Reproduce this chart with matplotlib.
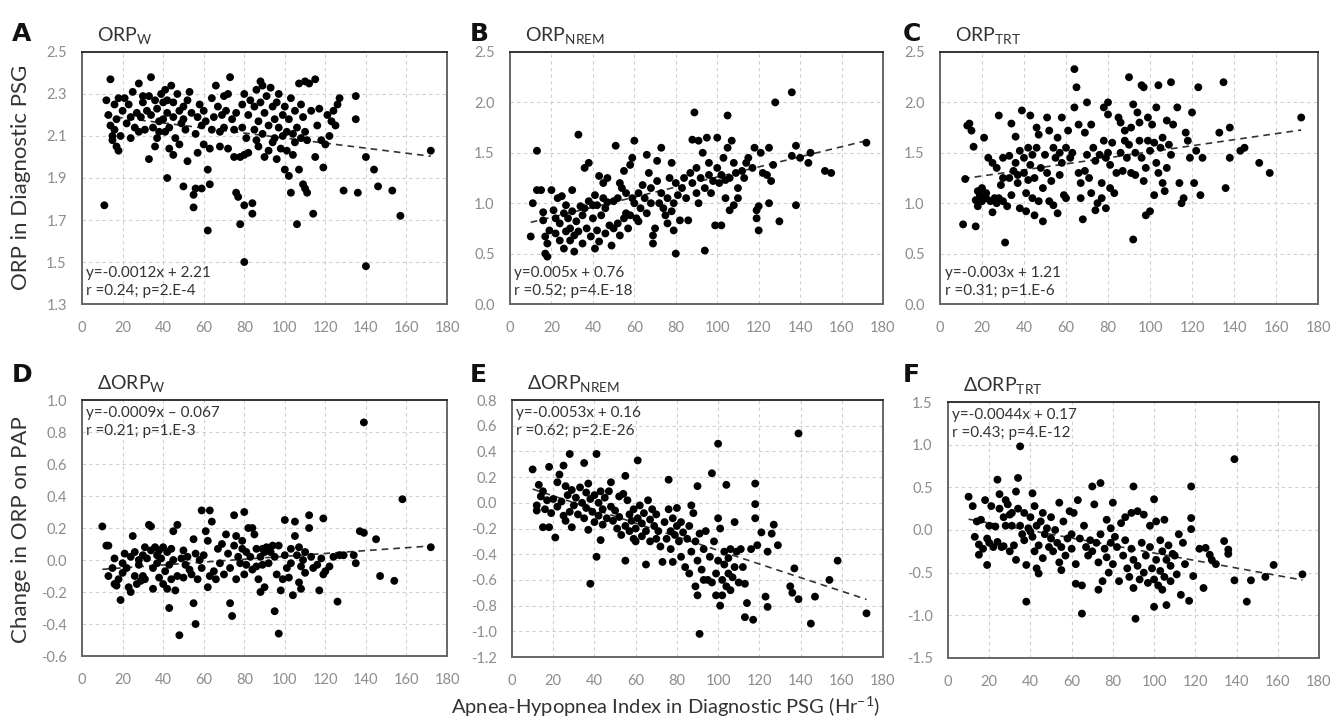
import numpy as np
import matplotlib.pyplot as plt

plt.rcParams['font.family'] = ['Lato', 'DejaVu Sans']

# ---- data (AHI, ORP) ----
orp_w = [
    (11,1.77),(14,2.37),(12,2.27),(13,2.20),(14,2.15),(16,2.13),(15,2.08),(17,2.05),(18,2.03),(19,2.10),
    (16,2.25),(18,2.28),(20,2.22),(17,2.18),(15,2.10),
    (21,2.28),(22,2.16),(23,2.25),(24,2.09),(25,2.31),(26,2.14),(27,2.21),(28,2.35),(29,2.19),(28,2.12),
    (30,2.26),(30,2.29),(24,2.19),
    (31,2.13),(32,2.22),(33,2.29),(34,2.20),(34,2.38),(35,2.14),(36,2.27),(37,2.09),(37,2.23),(38,2.17),
    (39,2.30),(33,1.99),(36,2.05),(40,2.18),(40,2.26),(38,2.12),
    (41,2.32),(42,2.27),(42,2.21),(43,2.14),(43,2.04),(44,2.34),(45,2.26),(45,2.19),(46,2.09),(47,2.30),
    (48,2.22),(48,2.06),(49,2.16),(50,2.24),(50,2.18),(41,2.12),(45,2.01),(42,1.90),(50,1.86),
    (51,2.13),(52,2.27),(52,1.98),(53,2.31),(54,2.21),(55,1.82),(55,1.76),(56,2.11),(56,1.85),(57,2.02),
    (57,2.19),(58,2.25),(59,2.15),(59,1.85),(60,2.22),(60,2.06),(61,2.17),
    (62,1.94),(62,1.65),(63,1.87),(63,2.04),(64,2.28),(64,2.13),(65,2.19),(66,2.34),(67,2.24),(68,2.05),
    (68,2.12),(69,2.20),(70,2.29),(70,2.14),(71,2.22),(72,2.04),(72,2.30),
    (73,2.38),(74,2.18),(75,2.00),(75,2.13),(76,2.21),(76,1.83),(77,1.81),(78,2.00),(78,1.68),(79,2.25),
    (79,2.14),(80,1.77),(80,2.01),(80,1.50),(80,2.30),(81,2.09),
    (82,2.20),(82,2.02),(83,2.27),(84,1.78),(84,1.73),(85,2.13),(85,2.24),(86,2.32),(87,2.17),(87,2.05),
    (88,2.26),(89,2.34),(89,2.11),(90,2.00),(90,2.21),(88,2.36),(86,2.08),
    (91,2.29),(92,2.15),(92,2.03),(93,2.33),(94,2.24),(95,2.09),(95,2.18),(96,1.99),(96,2.26),(97,2.30),
    (97,2.14),(98,2.04),(99,2.20),(99,2.10),(100,1.94),(100,2.24),(94,2.07),
    (101,2.12),(101,2.03),(102,1.91),(102,2.18),(103,2.28),(103,1.83),(104,2.11),(104,2.01),(105,2.07),
    (105,2.22),(106,1.68),(106,2.14),(107,1.94),(107,2.35),(108,2.09),(108,2.25),(109,1.87),(109,2.19),
    (110,1.85),(110,2.36),(110,2.12),(111,1.83),(111,2.08),
    (112,2.35),(113,2.22),(114,1.73),(115,2.37),(115,2.00),(116,2.15),(117,2.23),(118,2.08),(119,1.95),
    (120,2.06),(121,2.20),(122,2.10),(123,2.17),(124,2.22),(125,2.15),(126,2.25),(127,2.28),
    (129,1.84),(135,2.29),(135,2.18),(136,1.83),(140,2.00),(140,1.48),(144,1.94),(146,1.86),(153,1.84),
    (157,1.72),(172,2.03),
]

orp_nrem = [
    (10,0.67),(11,1.00),(13,1.52),(13,1.13),(15,1.13),(16,0.91),(16,0.83),(17,0.67),(17,0.50),(18,0.47),
    (19,0.73),(20,1.13),(18,0.60),
    (21,0.93),(22,0.85),(22,0.70),(23,1.05),(24,0.63),(24,0.80),(25,1.07),(26,0.90),(26,0.55),(27,0.72),
    (27,0.98),(28,0.85),(29,0.63),(29,0.75),(30,0.92),(30,1.13),(31,0.52),(31,0.68),(32,0.82),
    (33,1.68),(33,0.72),(34,0.97),(35,0.60),(35,0.88),(36,1.35),(36,0.95),(37,0.75),(38,1.40),(38,1.02),
    (39,0.67),(40,0.98),(40,0.85),(41,0.55),(41,1.08),(42,0.73),
    (42,0.98),(43,1.27),(43,0.62),(44,0.88),(45,1.05),(45,1.20),(46,0.95),(46,0.70),(47,1.25),(47,1.01),
    (48,0.78),(49,0.58),(50,1.02),(50,0.75),
    (51,1.57),(52,1.05),(52,0.80),(53,1.20),(53,0.68),(54,1.15),(55,0.85),(55,1.32),(56,1.10),(56,0.90),
    (57,0.75),(58,1.38),(58,0.88),(59,1.45),(59,1.05),(60,1.62),(60,1.00),(61,0.85),
    (62,1.10),(62,0.82),(63,0.95),(64,1.18),(65,1.05),(66,1.48),(66,0.90),(67,1.30),(68,1.15),(68,1.00),
    (69,0.60),(69,0.68),(70,0.75),(71,1.42),(71,1.22),(72,1.00),(73,1.55),
    (73,1.10),(74,0.95),(75,0.88),(76,1.05),(76,0.80),(77,1.25),(78,1.40),(78,0.92),(79,1.00),(79,0.73),
    (80,1.20),(80,0.50),(81,1.08),(82,0.83),
    (83,1.15),(84,1.25),(85,1.05),(86,0.83),(87,1.30),(88,1.20),(88,1.63),(89,1.90),(90,1.10),(90,1.35),
    (91,1.00),(91,1.62),(92,1.25),(93,1.50),(94,1.15),(94,0.53),(95,1.65),(96,1.40),(96,1.28),
    (97,1.10),(98,1.22),(99,0.78),(100,1.35),(100,1.65),(101,1.20),(102,0.78),(102,1.28),(103,1.45),
    (104,1.05),(104,1.23),(105,1.55),(105,1.87),(106,0.93),(106,1.25),(107,1.62),(108,1.40),(108,0.98),
    (109,1.30),
    (110,1.15),(110,1.05),(112,1.32),(113,1.25),(114,1.40),(115,1.45),(117,1.35),(118,1.55),(119,0.85),
    (119,0.93),(120,0.73),(120,0.97),(121,1.50),(122,1.30),(124,1.28),(125,1.55),(125,1.00),(126,1.22),
    (127,1.38),(128,2.00),(130,0.82),
    (136,2.10),(136,1.47),(138,1.57),(138,0.98),(140,1.45),(144,1.40),(145,1.50),(152,1.32),(155,1.30),
    (172,1.60),
]

orp_trt = [
    (11,0.79),(12,1.24),(13,1.77),(14,1.79),(15,1.72),(16,1.56),(17,0.77),(17,1.03),(18,0.97),(18,1.12),
    (19,1.08),(20,1.15),(20,1.02),
    (21,1.65),(22,1.05),(22,1.10),(23,1.45),(24,1.02),(25,0.91),(25,1.40),(26,1.05),(27,1.35),(27,1.00),
    (28,1.87),(28,1.05),(29,1.18),(30,1.45),(30,1.25),(30,1.02),
    (31,0.61),(32,0.97),(33,1.25),(33,1.47),(34,1.79),(34,1.08),(35,1.32),(36,1.66),(36,1.40),(37,1.28),
    (37,1.20),(38,1.52),(38,0.95),(39,1.92),(40,1.45),(40,1.30),
    (41,0.92),(41,1.10),(42,1.55),(42,1.23),(43,1.87),(43,1.38),(44,1.05),(44,1.48),(45,0.88),(45,1.25),
    (46,1.75),(46,1.55),(47,1.02),(47,1.68),(48,1.35),(49,0.82),(49,1.15),(50,1.48),
    (51,1.85),(51,1.30),(52,1.72),(52,1.02),(53,1.22),(54,0.98),(54,1.55),(55,1.45),(56,0.90),(56,1.65),
    (57,1.28),(57,1.50),(58,1.85),(58,1.40),(59,1.08),(60,1.05),(60,1.55),(61,1.72),
    (62,1.45),(63,1.50),(64,2.33),(64,1.95),(65,2.15),(66,1.30),(66,1.78),(67,1.20),(67,1.05),(68,0.84),
    (69,1.70),(69,1.32),(70,1.48),(70,2.00),(71,1.25),(72,1.10),(72,1.78),(73,1.55),
    (74,1.42),(74,0.93),(75,1.00),(76,1.48),(77,1.20),(77,1.05),(78,1.62),(78,1.95),(79,1.45),(79,0.95),
    (80,2.00),(80,1.88),(80,1.50),(81,1.15),(81,1.38),
    (82,1.60),(83,1.10),(84,1.30),(85,1.85),(86,1.80),(86,1.50),(87,1.32),(88,1.62),(88,1.72),(89,1.45),
    (90,2.25),(90,1.58),(91,1.75),(91,1.30),
    (92,0.64),(92,1.98),(93,1.50),(93,1.28),(94,1.90),(95,1.80),(95,1.62),(96,2.17),(96,1.45),(97,2.15),
    (97,1.22),(98,0.88),(98,1.35),(99,1.62),(99,1.85),(100,1.52),(100,0.92),(101,1.78),
    (102,1.08),(102,1.60),(103,1.40),(103,1.95),(104,2.17),(104,1.30),(105,1.55),(106,1.20),(106,1.65),
    (107,1.12),(108,1.35),(108,1.82),(109,1.58),(110,2.20),(110,1.48),(111,1.78),
    (113,1.95),(114,1.20),(115,1.00),(116,1.05),(117,1.70),(118,1.62),(119,1.45),(120,1.90),(121,1.20),
    (122,1.52),(123,2.15),(124,1.08),(125,1.45),
    (133,1.70),(135,2.20),(136,1.15),(138,1.45),(138,1.75),(145,1.55),(143,1.52),(152,1.40),(157,1.30),
    (172,1.85),
]

d_orp_w = [
    (10,0.21),(12,0.09),(13,0.09),(13,-0.10),(15,-0.05),(16,0.01),(16,-0.15),(17,-0.16),(18,-0.12),
    (19,-0.25),(20,-0.02),(20,-0.08),
    (21,0.04),(22,-0.05),(23,-0.17),(24,-0.20),(24,0.02),(25,0.15),(26,-0.10),(26,0.05),(27,-0.15),
    (28,-0.03),(28,0.00),(29,-0.13),(30,0.03),(30,-0.10),
    (31,0.08),(31,-0.12),(32,0.01),(33,0.22),(34,0.06),(34,0.21),(35,-0.18),(35,-0.05),(36,0.08),(37,0.03),
    (37,-0.02),(38,0.06),(38,-0.11),(39,0.01),(40,-0.15),(40,0.08),
    (41,-0.07),(42,-0.18),(42,0.05),(43,-0.30),(43,-0.03),(44,0.07),(44,-0.12),(45,0.18),(45,0.00),
    (46,-0.19),(47,0.22),(47,-0.10),(48,-0.47),(49,0.01),(50,-0.11),(50,0.06),
    (51,-0.03),(52,0.02),(53,-0.06),(54,-0.09),(55,-0.27),(55,0.13),(56,-0.40),(56,0.04),(57,-0.12),
    (58,0.00),(59,0.31),(59,-0.05),(60,0.03),
    (61,0.18),(62,-0.17),(62,0.12),(63,0.31),(63,-0.10),(64,0.24),(65,-0.07),(66,-0.12),(67,0.07),
    (68,-0.02),(69,0.10),(70,-0.09),(71,0.16),(72,0.04),(73,-0.05),(73,-0.27),(74,-0.35),
    (75,0.28),(75,0.09),(76,-0.12),(76,0.15),(77,0.02),(78,-0.02),(79,0.07),(79,0.12),(80,-0.09),(80,0.30),
    (81,0.05),(81,-0.03),(82,0.20),
    (83,0.02),(84,0.20),(84,-0.06),(85,0.16),(86,0.07),(86,-0.04),(87,-0.12),(88,0.02),(88,-0.20),
    (89,0.07),(89,-0.03),(90,-0.17),(90,0.05),
    (91,0.08),(92,-0.02),(93,0.05),(94,0.09),(95,-0.32),(95,0.02),(96,-0.09),(97,-0.46),(97,0.09),
    (98,-0.19),(99,-0.12),(100,0.03),(100,0.25),
    (101,-0.05),(102,-0.11),(103,0.07),(103,-0.02),(104,-0.22),(105,0.15),(105,0.24),(106,0.03),
    (107,-0.14),(107,0.08),(108,-0.18),(108,-0.04),(109,0.00),(110,-0.08),(110,0.05),
    (112,0.28),(112,0.20),(113,0.02),(114,-0.05),(116,-0.03),(117,-0.19),(118,0.01),(119,0.26),
    (119,-0.09),(120,-0.07),(122,-0.04),(124,0.02),(126,-0.26),(127,0.03),(129,0.03),
    (134,0.03),(135,-0.02),(137,0.18),(139,0.17),(139,0.86),(145,0.13),(147,-0.10),(154,-0.13),
    (158,0.38),(172,0.08),
]

d_orp_nrem = [
    (10,0.26),(12,-0.02),(12,-0.06),(13,0.14),(14,0.05),(15,0.09),(15,-0.19),(16,-0.05),(17,0.02),
    (18,-0.19),(18,0.28),(19,-0.08),(20,0.03),
    (21,-0.27),(22,-0.03),(22,0.16),(23,0.22),(24,0.01),(25,0.29),(25,-0.10),(26,0.13),(26,-0.14),
    (27,0.06),(28,-0.07),(28,0.38),(29,-0.19),(29,0.10),(30,-0.02),
    (31,0.04),(32,-0.09),(33,0.12),(34,0.00),(35,0.31),(35,-0.12),(36,0.08),(36,-0.04),(37,0.15),
    (37,-0.21),(38,-0.63),(38,0.03),(39,-0.07),(40,0.06),(40,-0.15),
    (41,0.38),(41,-0.42),(42,0.00),(42,-0.10),(43,-0.29),(43,0.09),(44,-0.05),(44,-0.17),(45,0.04),
    (46,-0.12),(47,0.09),(48,0.16),(48,-0.03),(49,-0.14),(50,-0.06),
    (51,-0.20),(52,0.05),(52,-0.11),(53,-0.25),(54,0.07),(55,0.21),(55,-0.45),(55,-0.18),(56,0.02),
    (57,-0.22),(57,-0.09),(58,-0.14),(59,-0.28),(59,-0.05),(60,-0.20),(60,-0.30),
    (61,0.33),(61,-0.12),(62,-0.02),(63,-0.26),(63,-0.16),(64,-0.08),(65,-0.48),(65,-0.22),(66,0.02),
    (67,-0.13),(67,-0.30),(68,-0.05),(69,-0.18),(70,-0.28),(70,-0.09),
    (71,-0.22),(72,-0.34),(73,-0.46),(74,-0.15),(75,-0.28),(76,0.18),(76,-0.05),(77,-0.22),(77,-0.36),
    (78,-0.12),(78,-0.46),(79,-0.25),(80,-0.04),(80,-0.18),(81,-0.30),
    (82,-0.42),(82,-0.15),(83,-0.23),(84,-0.50),(85,-0.28),(86,-0.55),(86,-0.18),(87,-0.38),(87,-0.02),
    (88,-0.08),(89,-0.65),(89,-0.30),(90,0.13),(90,-0.72),(90,-0.45),
    (91,-1.02),(91,-0.24),(92,-0.52),(93,-0.36),(93,-0.60),(94,-0.22),(95,-0.60),(96,-0.42),(97,0.23),
    (97,-0.62),(98,-0.30),(99,-0.55),(99,-0.72),(100,0.46),(100,-0.12),(100,-0.45),
    (101,-0.80),(101,-0.20),(102,-0.60),(102,-0.72),(103,-0.48),(103,-0.38),(104,0.14),(104,-0.65),
    (105,-0.55),(105,-0.43),(106,-0.36),(106,-0.68),(107,-0.58),(108,-0.50),(108,-0.15),(109,-0.38),
    (110,-0.62),
    (111,-0.36),(112,-0.50),(113,-0.63),(113,-0.89),(114,-0.78),(116,-0.36),(117,-0.91),(118,0.15),
    (118,-0.01),(118,-0.12),(119,-0.33),(121,-0.23),(123,-0.73),(124,-0.81),(124,-0.38),(126,-0.24),
    (127,-0.17),(129,-0.33),
    (135,-0.65),(136,-0.70),(137,-0.51),(139,0.54),(139,-0.75),(145,-0.94),(147,-0.73),(154,-0.60),
    (158,-0.45),(172,-0.86),
]

d_orp_trt = [
    (10,0.39),(12,0.28),(13,-0.08),(14,0.10),(15,-0.17),(15,-0.29),(16,0.12),(17,-0.22),(18,0.35),
    (19,-0.41),(19,-0.10),(20,-0.15),(20,0.05),
    (21,0.28),(22,-0.20),(23,0.04),(24,0.59),(24,-0.14),(25,0.25),(25,0.42),(26,-0.20),(27,0.15),
    (27,-0.19),(28,0.35),(28,0.05),(29,0.30),(30,-0.25),(30,0.18),
    (31,0.20),(31,0.05),(32,-0.18),(33,-0.35),(33,0.45),(34,0.61),(34,0.25),(35,0.98),(35,0.05),
    (36,-0.05),(37,0.20),(37,-0.12),(38,-0.84),(38,-0.41),(39,0.02),(40,-0.02),(40,0.15),
    (41,0.43),(41,-0.08),(42,-0.25),(42,0.28),(43,-0.45),(43,0.05),(44,-0.51),(44,-0.18),(45,0.10),
    (46,-0.33),(46,0.20),(47,-0.05),(48,0.02),(49,-0.20),(50,0.15),(50,-0.10),
    (51,-0.25),(52,0.00),(53,-0.15),(54,0.32),(54,-0.38),(55,-0.47),(55,-0.20),(56,0.10),(57,-0.30),
    (58,-0.10),(59,0.22),(60,-0.05),(60,-0.22),
    (61,0.20),(62,-0.63),(62,-0.40),(63,0.35),(64,-0.10),(65,-0.98),(65,-0.65),(66,0.05),(67,-0.20),
    (68,-0.30),(69,-0.12),(70,0.51),(70,-0.25),(71,0.30),(72,-0.15),
    (73,-0.70),(73,-0.38),(74,0.55),(74,-0.05),(75,-0.60),(76,-0.22),(77,0.12),(77,-0.32),(78,-0.50),
    (79,0.02),(79,-0.15),(80,-0.40),(80,0.32),(81,-0.08),
    (82,-0.20),(83,-0.60),(84,0.08),(85,-0.30),(86,-0.12),(86,0.15),(87,-0.45),(88,-0.55),(89,0.20),
    (89,-0.22),(90,0.51),(90,-0.68),(90,-0.35),
    (91,-1.04),(92,0.22),(92,-0.42),(93,-0.58),(94,-0.15),(95,0.18),(95,-0.50),(96,-0.30),(97,-0.62),
    (98,-0.20),(98,0.05),(99,-0.45),(100,0.36),(100,-0.58),(100,-0.90),
    (101,0.10),(101,-0.35),(102,-0.65),(103,-0.12),(103,-0.48),(104,-0.25),(104,-0.70),(105,0.12),
    (105,-0.55),(106,-0.88),(106,-0.35),(107,-0.18),(108,-0.60),(108,-0.42),(109,-0.28),(110,-0.30),
    (111,-0.52),(112,-0.05),(113,-0.76),(114,-0.15),(115,-0.40),(117,-0.83),(118,0.51),(118,0.14),
    (118,0.01),(119,-0.54),(122,-0.22),(124,-0.68),(125,-0.21),(127,-0.29),(128,-0.35),(130,-0.40),
    (134,-0.13),(136,-0.23),(136,-0.28),(139,0.83),(139,-0.59),(145,-0.84),(147,-0.59),(154,-0.55),
    (158,-0.41),(172,-0.52),
]

letters = ['A', 'B', 'C', 'D', 'E', 'F']
titles = [r'ORP$_{\mathregular{W}}$', r'ORP$_{\mathregular{NREM}}$', r'ORP$_{\mathregular{TRT}}$',
          r'ΔORP$_{\mathregular{W}}$', r'ΔORP$_{\mathregular{NREM}}$', r'ΔORP$_{\mathregular{TRT}}$']
equations = ['y=-0.0012x + 2.21\nr =0.24; p=2.E-4',
             'y=0.005x + 0.76\nr =0.52; p=4.E-18',
             'y=-0.003x + 1.21\nr =0.31; p=1.E-6',
             'y=-0.0009x \u2013 0.067\nr =0.21; p=1.E-3',
             'y=-0.0053x + 0.16\nr =0.62; p=2.E-26',
             'y=-0.0044x + 0.17\nr =0.43; p=4.E-12']
# fitted line as drawn in the figure
slopes = [-0.0012, 0.005, 0.003, 0.0009, -0.0053, -0.0044]
intercepts = [2.21, 0.76, 1.21, -0.067, 0.16, 0.17]
ylims = [(1.3, 2.5), (0.0, 2.5), (0.0, 2.5), (-0.6, 1.0), (-1.2, 0.8), (-1.5, 1.5)]
ysteps = [0.2, 0.5, 0.5, 0.2, 0.2, 0.5]
datasets = [orp_w, orp_nrem, orp_trt, d_orp_w, d_orp_nrem, d_orp_trt]

# axes boxes in figure fraction [left, bottom, width, height]
boxes = [[0.0616, 0.5824, 0.2740, 0.3462],
         [0.3829, 0.5824, 0.2800, 0.3462],
         [0.7057, 0.5824, 0.2838, 0.3462],
         [0.0616, 0.0989, 0.2740, 0.3516],
         [0.3844, 0.0975, 0.2785, 0.3530],
         [0.7117, 0.0962, 0.2785, 0.3516]]

fig = plt.figure(figsize=(13.32, 7.28), dpi=100)

for i in range(6):
    ax = fig.add_axes(boxes[i])
    pts = np.array(datasets[i])
    x, y = pts[:, 0], pts[:, 1]
    ax.scatter(x, y, s=32, color='black', edgecolors='none', zorder=3)
    xl = np.array([x.min(), x.max()])
    ax.plot(xl, slopes[i] * xl + intercepts[i], color='#333333', lw=1.2,
            dashes=(4, 3), zorder=2)

    lo, hi = ylims[i]
    ax.set_xlim(0, 180)
    ax.set_ylim(lo, hi)
    ax.set_xticks(np.arange(0, 181, 20))
    yt = np.round(np.arange(lo, hi + 1e-9, ysteps[i]), 2) + 0.0
    ax.set_yticks(yt)
    ax.set_yticklabels(['%.1f' % (v if abs(v) > 1e-9 else 0.0) for v in yt])
    ax.grid(True, color='#cfcfcf', lw=0.8, linestyle=(0, (3, 3)))
    ax.set_axisbelow(True)
    ax.tick_params(length=0, labelsize=10.5, labelcolor='#8c8c8c')
    ax.tick_params(axis='x', pad=12)
    ax.tick_params(axis='y', pad=11)
    for s in ax.spines.values():
        s.set_color('#666666')
        s.set_linewidth(1.4)
    ax.spines['top'].set_color('#333333')

    ax.text(0.04, 1.02, titles[i], transform=ax.transAxes, fontsize=14,
            color='#333333', ha='left', va='bottom')
    if i < 3:
        ax.text(0.012, 0.025, equations[i], transform=ax.transAxes, fontsize=11,
                color='#333333', ha='left', va='bottom', linespacing=1.35)
    else:
        ax.text(0.012, 0.975, equations[i], transform=ax.transAxes, fontsize=11,
                color='#333333', ha='left', va='top', linespacing=1.35)

# panel letters
letter_pos = [(0.009, 0.97), (0.353, 0.97), (0.678, 0.97),
              (0.009, 0.501), (0.353, 0.501), (0.678, 0.501)]
for lt, (lx, ly) in zip(letters, letter_pos):
    fig.text(lx, ly, lt, fontsize=18, fontweight='bold', family='DejaVu Sans',
             color='#111111', ha='left', va='top')

fig.text(0.016, 0.757, 'ORP in Diagnostic PSG', rotation=90, fontsize=16,
         color='#333333', ha='center', va='center')
fig.text(0.016, 0.272, 'Change in ORP on PAP', rotation=90, fontsize=16,
         color='#333333', ha='center', va='center')
fig.text(0.5, 0.012, r'Apnea-Hypopnea Index in Diagnostic PSG (Hr$^{\mathregular{-1}}$)',
         fontsize=14.5, color='#333333', ha='center', va='bottom')

fig.savefig('out.png', dpi=100, facecolor='white')
